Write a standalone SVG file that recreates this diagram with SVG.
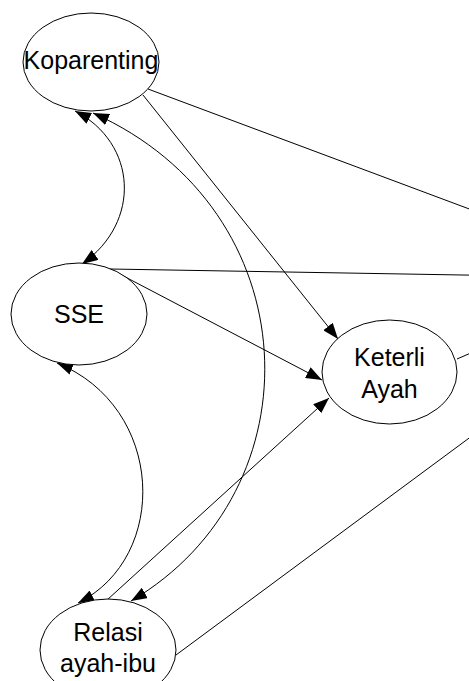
<svg xmlns="http://www.w3.org/2000/svg" width="469" height="681" viewBox="0 0 469 681">
  <style>
    .node ellipse { fill: #ffffff; stroke: #000000; stroke-width: 1; }
    .node text { font-family: "Liberation Sans", Arial, sans-serif; font-size: 25px; fill: #000000; text-anchor: middle; }
    .edge { fill: none; stroke: #000000; stroke-width: 1; }
    .one { marker-end: url(#head); }
    .two { marker-start: url(#head); marker-end: url(#head); }
  </style>
  <defs>
    <marker id="head" markerUnits="userSpaceOnUse" markerWidth="16" markerHeight="12" refX="16" refY="6" orient="auto-start-reverse" viewBox="0 0 16 12">
      <path d="M0,0 L16,6 L0,12 z" fill="#000000"/>
    </marker>
  </defs>
  <rect width="469" height="681" fill="#ffffff"/>

  <g id="connectors">
    <!-- covariances (double-headed curves) -->
    <path class="edge two" d="M75,111 C137,143 142,222 82,264"/>
    <path class="edge two" d="M93,113 C310,210 320,490 131,601"/>
    <path class="edge two" d="M57,363 C165,407 170,557 78,603"/>
    <!-- paths into Keterli Ayah -->
    <path class="edge one" d="M143,95 L338,339"/>
    <path class="edge one" d="M110,269 L322,380"/>
    <path class="edge one" d="M107,600 L329,398"/>
    <!-- paths leaving to the right -->
    <path class="edge" d="M148,89 L480,213"/>
    <path class="edge" d="M110,269 L480,275.3"/>
    <path class="edge" d="M457,359 L480,349"/>
    <path class="edge" d="M176,655 L480,430"/>
  </g>

  <g id="koparenting" class="node">
    <ellipse cx="91" cy="62" rx="68" ry="49"/>
    <text x="91" y="68.5">Koparenting</text>
  </g>
  <g id="sse" class="node">
    <ellipse cx="79" cy="314" rx="68" ry="51"/>
    <text x="79" y="322.5">SSE</text>
  </g>
  <g id="keterli-ayah" class="node">
    <ellipse cx="389.5" cy="372" rx="67.5" ry="52"/>
    <text x="389.5" y="365.5">Keterli</text>
    <text x="389.5" y="397.5">Ayah</text>
  </g>
  <g id="relasi-ayah-ibu" class="node">
    <ellipse cx="108" cy="650" rx="68" ry="51"/>
    <text x="108" y="640.5">Relasi</text>
    <text x="108" y="672">ayah-ibu</text>
  </g>
</svg>
